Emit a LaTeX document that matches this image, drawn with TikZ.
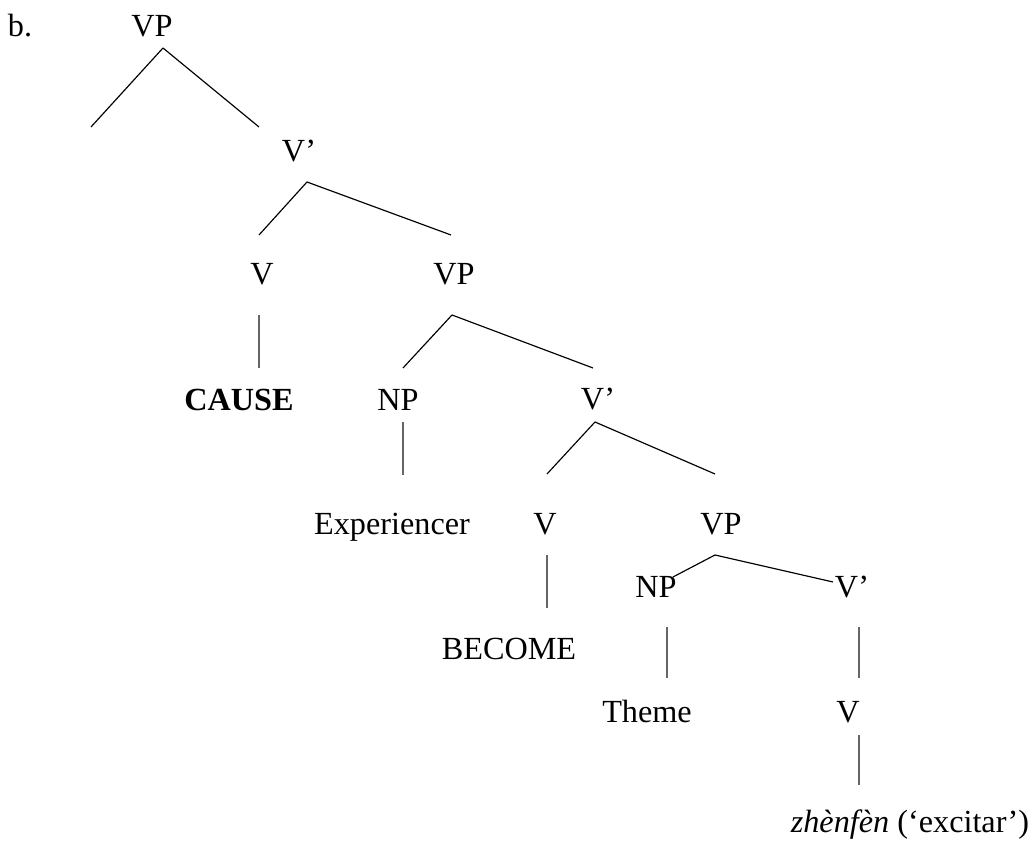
\documentclass[tikz,border=0pt]{standalone}
\usepackage{fontspec}
\setmainfont{Liberation Serif}
\usepackage{tikz}

\begin{document}
\begin{tikzpicture}
[x=0.012cm,y=-0.012cm,
 lbl/.style={anchor=base,inner sep=0pt,font=\fontsize{11}{13}\selectfont},
 br/.style={line width=0.4pt},
 stem/.style={line width=0.6pt,black!60}]
\useasboundingbox (0,0) rectangle (1034,854);

\node[lbl] (ex) at (20,37) {b.};
\node[lbl] (vp1) at (152,37) {VP};
\node[lbl] (vb1) at (299,162) {V’};
\node[lbl] (v1) at (262,285) {V};
\node[lbl] (vp2) at (454,285) {VP};
\node[lbl] (cause) at (239,411) {\textbf{CAUSE}};
\node[lbl] (np1) at (398,411) {NP};
\node[lbl] (vb2) at (598,410) {V’};
\node[lbl] (exp) at (392,535) {Experiencer};
\node[lbl] (v2) at (545,535) {V};
\node[lbl] (vp3) at (721,535) {VP};
\node[lbl] (become) at (509,660) {BECOME};
\node[lbl] (np2) at (656,598) {NP};
\node[lbl] (vb3) at (852,598) {V’};
\node[lbl] (theme) at (647,723) {Theme};
\node[lbl] (v3) at (848,723) {V};
\node[lbl] (zh) at (910,833) {\textit{zhènfèn} (‘excitar’)};

% branch points
\coordinate (a1) at (163,48);
\coordinate (l1) at (91,127);
\coordinate (r1) at (259,127);
\coordinate (a2) at (307,182);
\coordinate (l2) at (259,235);
\coordinate (r2) at (451,235);
\coordinate (a3) at (452,315);
\coordinate (l3) at (403,368);
\coordinate (r3) at (593,368);
\coordinate (a4) at (595,422);
\coordinate (l4) at (547,474);
\coordinate (r4) at (715,474);
\coordinate (a5) at (715,555);
\coordinate (l5) at (673,577);
\coordinate (r5) at (833,582);

% stems
\coordinate (s1) at (259,315);
\coordinate (t1) at (259,368);
\coordinate (s2) at (403,422);
\coordinate (t2) at (403,475);
\coordinate (s3) at (547,555);
\coordinate (t3) at (547,608);
\coordinate (s4) at (667,627);
\coordinate (t4) at (667,678);
\coordinate (s5) at (859,627);
\coordinate (t5) at (859,678);
\coordinate (s6) at (859,735);
\coordinate (t6) at (859,785);

\foreach \from/\to in {a1/l1,a1/r1,a2/l2,a2/r2,a3/l3,a3/r3,a4/l4,a4/r4,a5/l5,a5/r5}
\draw[br] (\from) -- (\to);
\foreach \from/\to in {s1/t1,s2/t2,s3/t3,s4/t4,s5/t5,s6/t6}
\draw[stem] (\from) -- (\to);
\end{tikzpicture}
\end{document}
